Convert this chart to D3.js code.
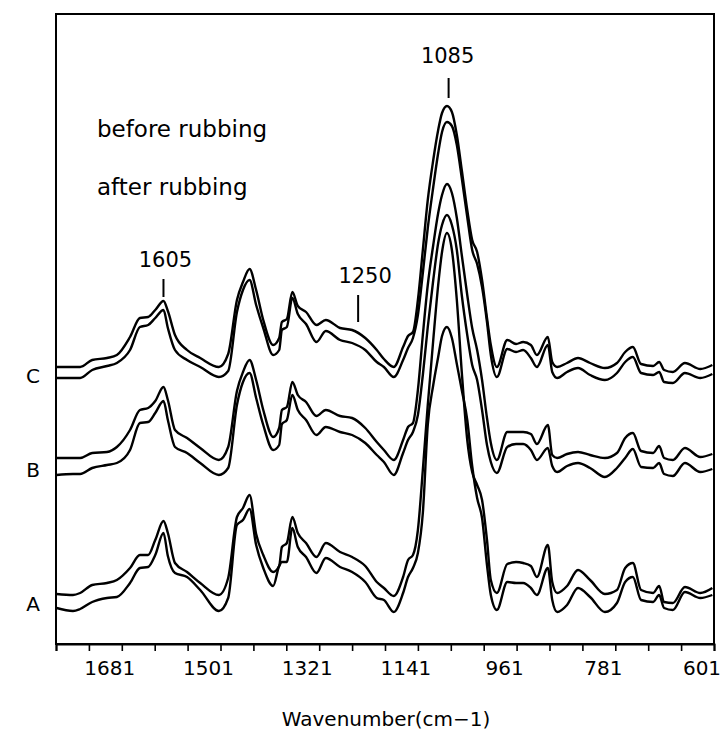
<!DOCTYPE html>
<html>
<head>
<meta charset="utf-8">
<script src="https://cdn.jsdelivr.net/npm/d3@7"></script>
<style>
  html, body { margin: 0; padding: 0; background: #fff; }
  svg { display: block; }
  text { font-family: "DejaVu Sans", "Liberation Sans", Arial, sans-serif; fill: #000; }
</style>
</head>
<body>
<svg id="chart" width="722" height="745"></svg>
<script>
// ---- data (wavenumber in cm-1, offset absorbance in arbitrary units) ----
const wavenumbers = [1800,1770,1757,1735,1708,1690,1666,1648,1633,1620,1605,1597,1584,1562,1538,1504,1487,1471,1460,1448,1436,1423,1405,1394,1389,1380,1370,1360,1345,1326,1309,1283,1261,1237,1216,1203,1185,1168,1159,1150,1141,1132,1123,1113,1104,1097,1088,1079,1070,1061,1051,1042,1033,1024,1015,1008,997,978,962,949,935,924,904,896,887,869,849,827,800,778,763,749,734,712,701,692,676,654,626,604];

const cBefore = [277,277,277,284,286,289,307,326,327,334,343,333,309,294,286,277,290,344,362,375,354,324,299,306,322,325,352,338,332,319,324,316,314,306,294,285,277,297,308,312,344,394,444,484,514,531,538,532,509,474,434,404,392,364,326,299,277,304,300,302,299,289,307,282,277,281,286,281,276,281,292,297,280,278,282,274,272,281,275,279];
const cAfter  = [266,266,266,274,278,281,294,317,319,326,334,316,294,284,277,267,273,332,354,364,339,316,289,294,314,317,346,330,320,302,313,304,301,294,282,277,267,284,296,306,329,371,416,457,491,512,522,518,499,466,427,394,380,357,322,289,267,295,292,294,286,277,299,272,266,272,276,269,264,271,282,287,271,269,272,262,261,271,266,270];
const bBefore = [186,186,186,191,192,197,214,234,236,243,257,244,214,206,196,184,197,253,272,284,264,234,207,216,234,237,262,249,242,228,234,228,226,216,202,194,184,204,217,221,254,309,359,399,431,449,460,451,426,389,349,316,294,264,226,201,184,212,212,212,210,200,219,189,186,190,192,189,186,191,206,211,193,191,198,186,184,196,187,190];
const bAfter  = [169,170,170,176,179,181,194,221,222,231,243,224,197,191,181,169,176,239,262,271,246,219,194,199,220,224,249,234,224,209,217,212,209,201,189,182,169,191,204,212,229,269,317,364,401,419,429,419,394,349,309,279,264,234,199,182,171,197,200,200,194,184,196,178,172,178,181,176,167,176,186,195,177,176,181,170,168,181,172,175];
const aBefore = [50,49,51,59,61,64,76,89,89,104,123,111,81,72,61,49,66,127,136,149,110,89,72,78,97,101,127,111,101,87,101,92,87,78,62,56,48,67,84,89,114,174,239,304,359,392,411,394,344,272,204,172,159,144,104,64,51,80,82,81,78,67,99,62,51,58,74,64,50,54,76,81,54,51,58,42,41,57,51,56];
const aAfter  = [36,33,35,42,46,47,61,76,77,89,111,88,71,67,54,33,46,119,124,135,99,76,58,78,82,82,116,97,87,71,86,77,72,62,46,44,32,51,67,76,91,131,219,259,287,308,317,306,280,254,224,178,146,126,79,49,34,62,61,61,56,49,76,44,32,39,56,47,32,41,62,67,44,42,49,36,34,52,46,49];

const sampleLabels = ["C", "B", "A"];
const seriesPairs = [[cBefore, cAfter], [bBefore, bAfter], [aBefore, aAfter]];

const tickValues = d3.range(601, 1802, 60);
const tickLabels = [1681, 1501, 1321, 1141, 961, 781, 601];

const peakLabels = [1605, 1250, 1085];
const legendTexts = ["before rubbing", "after rubbing"];
const xTitle = "Wavenumber(cm\u22121)";

// ---- layout ----
const svg = d3.select("#chart");
const mLeft = 56, mRight = 714, mTop = 14, mBottom = 644;

const x = d3.scaleLinear().domain([1801, 601]).range([mLeft, mRight]);
const y = d3.scaleLinear().domain([0, 630]).range([mBottom, mTop]);

// frame
svg.append("rect")
  .attr("x", mLeft).attr("y", mTop)
  .attr("width", mRight - mLeft).attr("height", mBottom - mTop)
  .attr("fill", "none").attr("stroke", "#000").attr("stroke-width", 2);

// x axis ticks
const axis = d3.axisBottom(x).tickValues(tickValues).tickSize(7).tickFormat("");
const gx = svg.append("g").attr("transform", `translate(0,${mBottom})`).call(axis);
gx.select(".domain").attr("stroke-width", 2);
gx.selectAll(".tick line").attr("stroke-width", 1.6);

svg.append("g").selectAll("text").data(tickLabels).join("text")
  .attr("x", d => x(d) - 12)
  .attr("y", 675)
  .attr("text-anchor", "middle")
  .attr("font-size", 20)
  .text(d => d);

svg.append("text")
  .attr("x", 386).attr("y", 726)
  .attr("text-anchor", "middle")
  .attr("font-size", 20)
  .text(xTitle);

// spectra
const line = d3.line()
  .x((d, i) => x(wavenumbers[i]))
  .y(d => y(d))
  .curve(d3.curveMonotoneX);

seriesPairs.forEach((pair, k) => {
  pair.forEach(vals => {
    svg.append("path")
      .datum(vals)
      .attr("d", line)
      .attr("fill", "none")
      .attr("stroke", "#000")
      .attr("stroke-width", 2.4)
      .attr("stroke-linejoin", "round");
  });
  svg.append("text")
    .attr("x", 33)
    .attr("y", y((pair[0][0] + pair[1][0]) / 2) + 10)
    .attr("text-anchor", "middle")
    .attr("font-size", 20)
    .text(sampleLabels[k]);
});

// peak annotations
const peakGeom = {1605: {dx: 2, y1: 279, y2: 297, base: 267},
                  1250: {dx: 7, y1: 295, y2: 322, base: 283},
                  1085: {dx: -1, y1: 78, y2: 98, base: 63}};
peakLabels.forEach(p => {
  const g = peakGeom[p];
  svg.append("line")
    .attr("x1", x(p)).attr("x2", x(p))
    .attr("y1", g.y1).attr("y2", g.y2)
    .attr("stroke", "#000").attr("stroke-width", 2);
  svg.append("text")
    .attr("x", x(p) + g.dx).attr("y", g.base)
    .attr("text-anchor", "middle")
    .attr("font-size", 21)
    .text(p);
});

// legend texts
legendTexts.forEach((t, i) => {
  svg.append("text")
    .attr("x", 97).attr("y", 137 + i * 58)
    .attr("font-size", 23)
    .text(t);
});
</script>
</body>
</html>
